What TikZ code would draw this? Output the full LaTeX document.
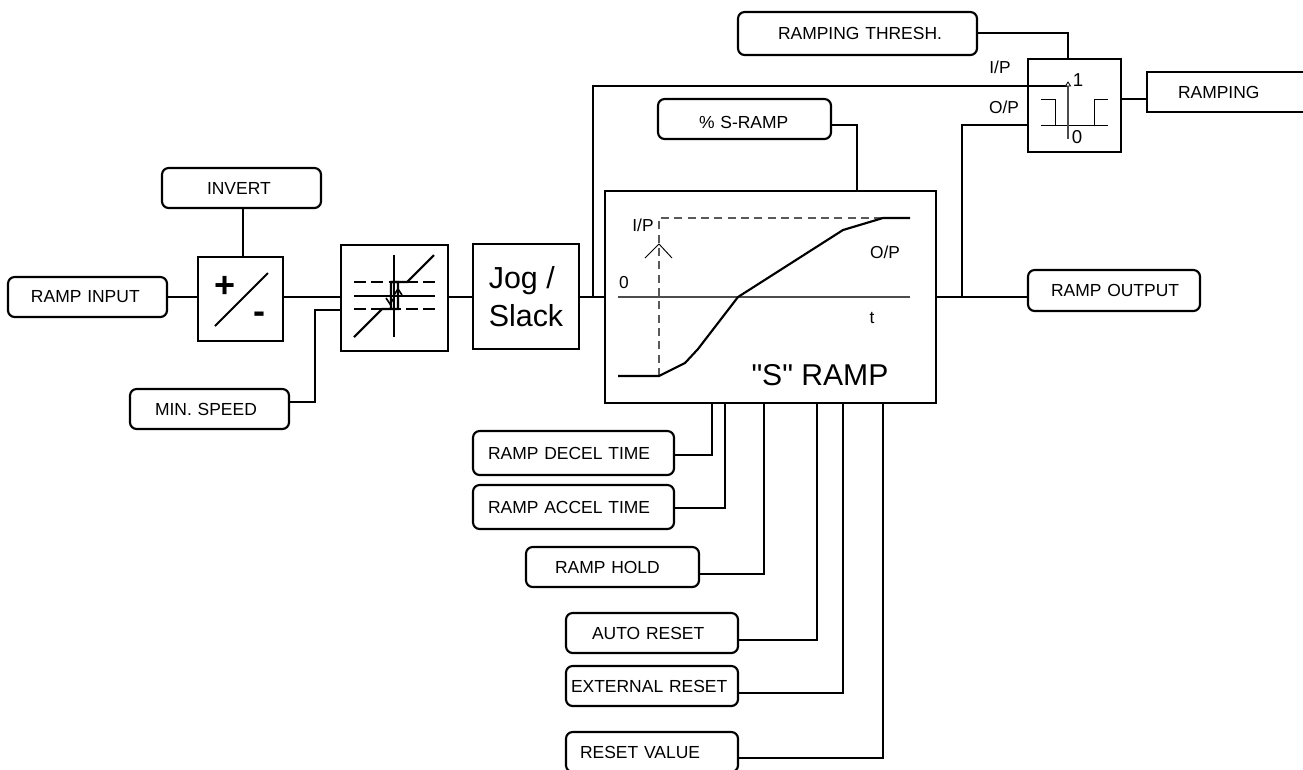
\documentclass[tikz,border=0pt]{standalone}
\usepackage{fontspec}
\setmainfont[Ligatures=TeXOff]{Liberation Sans}
\newcommand{\bx}[7]{% style,name,x1,y1,x2,y2,text
  \node[#1,minimum width={(#5-#3)*0.75pt},minimum height={(#6-#4)*0.75pt}] (#2) at ({(#3+#5)/2},{(#4+#6)/2}) {#7};}
\newcommand{\lbx}[8]{% style,name,x1,y1,x2,y2,text,left pad: text starts at pad px from the left edge
  \pgfmathsetmacro{\tw}{(#5-#3-#8-#8)*0.75}
  \pgfmathsetmacro{\ts}{#8*0.75}
  \node[#1,align=left,text width=\tw pt,inner xsep=\ts pt,minimum height={(#6-#4)*0.75pt}] (#2) at ({(#3+#5)/2},{(#4+#6)/2}) {\mbox{#7}};}
\tikzset{
  wire/.style={line width=1.6pt,line join=miter},
  sq/.style={draw,line width=1.6pt,outer sep=0pt,inner sep=0pt,font=\fontsize{13.1}{15}\selectfont},
  rbox/.style={sq,rounded corners=5pt},
  lab/.style={inner sep=0pt,font=\fontsize{13}{15}\selectfont},
  sym/.style={inner sep=0pt,font=\fontsize{27}{30}\selectfont\bfseries},
}
\begin{document}
\begin{tikzpicture}[x=0.75pt,y=-0.75pt]
\useasboundingbox (0,0) rectangle (1303,769);
% input side
\lbx{rbox}{input}{8}{277}{167}{317}{RAMP INPUT}{23}
\lbx{rbox}{invert}{162}{168}{321}{208}{INVERT}{45}
\lbx{rbox}{minspeed}{130}{389}{289}{429}{MIN. SPEED}{25}
\bx{sq}{sign}{198}{257}{283}{341}{}
\bx{sq}{deadband}{341}{245}{448}{351}{}
\bx{sq,font=\fontsize{22.8}{28.5}\selectfont,align=left}{jog}{473}{244}{579}{349}{Jog /\\Slack}
\bx{sq}{sramp}{605}{191}{936}{403}{}
% top right
\lbx{rbox}{thresh}{738}{12}{977}{55}{RAMPING THRESH.}{40}
\lbx{rbox}{spct}{658}{99}{831}{139}{\rule{0pt}{14.5pt}\% S-RAMP}{41}
\bx{sq}{cmp}{1028}{59}{1121}{152}{}
\lbx{sq}{ramping}{1147}{72}{1312}{112}{RAMPING}{31}
\lbx{rbox}{output}{1028}{270}{1200}{311}{RAMP OUTPUT}{23}
% bottom
\lbx{rbox}{decel}{473}{431}{674}{475}{RAMP DECEL TIME}{15}
\lbx{rbox}{accel}{473}{485}{674}{529}{RAMP ACCEL TIME}{15}
\lbx{rbox}{hold}{526}{547}{699}{587}{RAMP HOLD}{29}
\lbx{rbox}{auto}{566}{613}{738}{653}{AUTO RESET}{26}
\lbx{rbox}{ext}{566}{666}{738}{706}{EXTERNAL RESET}{5}
\lbx{rbox}{value}{566}{732}{738}{772}{RESET VALUE}{14}
% port coordinates on the S-ramp box
\coordinate (pd) at (712,403);
\coordinate (pa) at (725,403);
\coordinate (ph) at (764,403);
\coordinate (par) at (817,403);
\coordinate (per) at (843,403);
\coordinate (prv) at (883,403);
\coordinate (junc1) at (593,297);
\coordinate (junc2) at (962,297);
\coordinate (cmpI) at (1068,86);
% connectors
\draw[wire] (input.east) -- (sign.west |- input.east);
\draw[wire] (invert.south -| 243,0) -- (sign.north -| 243,0);
\draw[wire] (sign.east |- 0,297) -- (deadband.west |- 0,297);
\draw[wire] (minspeed.east |- 0,402) -| (315,310) -- (deadband.west |- 0,310);
\draw[wire] (deadband.east |- 0,297) -- (jog.west |- 0,297);
\draw[wire] (jog.east |- junc1) -- (sramp.west |- junc1);
\draw[wire] (junc1) |- (cmpI);
\draw[wire] (sramp.east |- junc2) -- (output.west |- junc2);
\draw[wire] (junc2) |- (cmp.west |- 0,125);
\draw[wire] (thresh.east |- 0,33) -| (cmp.north -| cmpI);
\draw[wire] (cmp.east |- 0,99) -- (ramping.west |- 0,99);
\draw[wire] (spct.east |- 0,125) -| (sramp.north -| 857,0);
\draw[wire] (decel.east |- 0,455) -| (pd);
\draw[wire] (accel.east |- 0,508) -| (pa);
\draw[wire] (hold.east |- 0,574) -| (ph);
\draw[wire] (auto.east |- 0,640) -| (par);
\draw[wire] (ext.east |- 0,693) -| (per);
\draw[wire] (value.east |- 0,758) -| (prv);
% sign block
\node[sym] (plus) at (225,287) {+};
\node[sym] (minus) at (259,318) {-};
\draw[line width=1.5pt] (215,326) -- (268,273);
% dead band
\draw[line width=0.8pt,dash pattern=on 9pt off 4pt] (354,282) -- (435,282) (354,309) -- (435,309);
\draw[wire] (354,296) -- (435,296);
\draw[wire] (394,255) -- (394,337);
\draw[wire] (354,337) -- (382,309) -- (398,309) -- (398,282) -- (391,282) -- (391,309);
\draw[wire] (391,282) -- (407,282) -- (434,255);
\draw[line width=1.2pt] (394,295) -- (398,289) -- (402,295) (386,298) -- (390,304) -- (394,298);
% S-ramp graph
\draw[line width=0.8pt,gray!70!black,dash pattern=on 6pt off 4pt] (659,376) -- (659,218) -- (883,218);
\draw[line width=0.8pt,gray!60!black] (618,297) -- (910,297);
\draw[line width=0.7pt] (645,258) -- (659,244) -- (672,258);
\draw[wire] (618,376) -- (659,376) -- (685,363) -- (698,349) -- (738,297) -- (843,230) -- (883,218) -- (910,218);
\node[lab] (tIP) at (643,225) {I/P};
\node[lab] (tZero) at (624,283) {0};
\node[lab] (tOP) at (885,252) {O/P};
\node[lab] (tT) at (872,318) {t};
\node[inner sep=0pt,font=\fontsize{22.6}{27}\selectfont] (tS) at (820,375) {"S" RAMP};
% comparator
\node[lab] (cIP) at (1000,67) {I/P};
\node[lab] (cOP) at (1004,107) {O/P};
\draw[line width=0.6pt] (1041,99) -- (1055,99) -- (1055,125) (1041,125) -- (1108,125) (1094,125) -- (1094,99) -- (1108,99);
\draw[line width=0.8pt,gray!60!black] (1068,86) -- (1068,139);
\draw[line width=0.6pt,fill=white] (1065.5,86) -- (1068,82) -- (1070.5,86) -- cycle;
\node[lab,font=\fontsize{14}{16}\selectfont] (c1) at (1078,80) {1};
\node[lab,font=\fontsize{14}{16}\selectfont] (c0) at (1077,137) {0};
\end{tikzpicture}
\end{document}
